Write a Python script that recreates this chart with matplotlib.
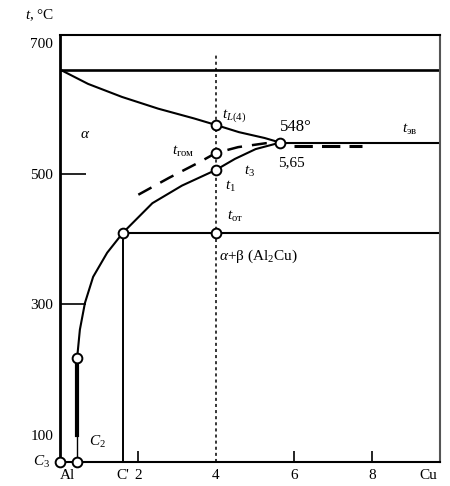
# Al-Cu phase diagram (aluminium corner) with heat treatment temperatures

import numpy as np
import matplotlib.pyplot as plt

plt.rcParams['font.family'] = ['Liberation Serif', 'DejaVu Serif']
plt.rcParams['mathtext.fontset'] = 'custom'
plt.rcParams['mathtext.rm'] = 'Liberation Serif'
plt.rcParams['mathtext.it'] = 'Liberation Serif:italic'

# --- DATA (wt.% Cu, deg C) ---
t_melt_al = 660
t_eut = 548
x_eut = 5.65
t_m = 410
x_alloy = 4
x_c1 = 1.62          # C' : solubility at t_m
x_c2 = 0.44          # C2 : solubility at low temperature
t_low = 58           # bottom of the drawing

liq_x = [0, 0.72, 1.59, 2.52, 3.44, 4.0, 4.59, 5.25, 5.65]
liq_t = [660, 638, 618, 600, 585, 575, 564, 555, 548]

solv_x = [5.65, 5.02, 4.49, 4.0, 3.13, 2.37, 1.62, 1.21, 0.85, 0.64, 0.51, 0.44]
solv_t = [548, 538, 523, 506, 482, 455, 410, 379, 342, 302, 261, 218]

dash_x = [2.01, 2.8, 3.58, 4.0, 4.57, 5.28, 5.65]
dash_t = [468, 494, 518, 532, 541, 547, 548]
dash2_x = [6.0, 7.75]
dash2_t = [543, 543]

# open circles on the diagram
pt_x = [0, x_c2, x_c2, x_c1, x_alloy, x_alloy, x_alloy, x_alloy, x_eut]
pt_t = [t_low, t_low, 218, t_m, t_m, 506, 532, 575, t_eut]

y_ticks = [100, 300, 500, 700]
x_ticks = [0.2, x_c1, 2, 4, 6, 8, 9.45]
x_labels = ['Al', "C'", '2', '4', '6', '8', 'Cu']

xmax, ymax = 9.75, 713

# --- PLOT ---
fig = plt.figure(figsize=(4.5, 4.86), dpi=100)
ax = fig.add_axes([60 / 450, 24 / 486, 380 / 450, 427 / 486])
ax.set_xlim(0, xmax)
ax.set_ylim(t_low, ymax)

k = 'black'
ax.axhline(t_melt_al, color=k, lw=1.9)
ax.plot(liq_x, liq_t, color=k, lw=1.5)
ax.plot(solv_x, solv_t, color=k, lw=1.5)
ax.plot(dash_x, dash_t, color=k, lw=1.8, dashes=(6, 4))
ax.plot(dash2_x, dash2_t, color=k, lw=2.2, dashes=(6, 3))
ax.plot([x_eut, xmax], [t_eut, t_eut], color=k, lw=1.5)
ax.plot([x_c1, xmax], [t_m, t_m], color=k, lw=1.5)
ax.plot([x_c1, x_c1], [t_low, t_m], color=k, lw=1.4)
ax.plot([x_c2, x_c2], [100, 218], color=k, lw=3.0)
ax.plot([x_c2, x_c2], [t_low, 100], color=k, lw=1.0)
ax.plot([x_alloy, x_alloy], [t_low, 685], color=k, lw=1.1, dashes=(2, 2))

ax.plot(pt_x, pt_t, 'o', ms=7, mfc='white', mec=k, mew=1.4, clip_on=False, zorder=5)

# labels on the diagram
fs = 11
ax.text(0.64, 560, r'$\alpha$', fontsize=fs, ha='center', va='center')
ax.text(4.15, 590, r'$t_{L(4)}$', fontsize=fs, ha='left', va='center')
ax.text(3.45, 535, r'$t_{\mathrm{гом}}$', fontsize=fs, ha='right', va='center')
ax.text(4.86, 503, r'$t_3$', fontsize=fs, ha='center', va='center')
ax.text(4.37, 481, r'$t_1$', fontsize=fs, ha='center', va='center')
ax.text(4.49, 435, r'$t_{\mathrm{от}}$', fontsize=fs, ha='center', va='center')
ax.text(4.08, 373, r'$\alpha$+β (Al$_2$Cu)', fontsize=fs, ha='left', va='center')
ax.text(6.05, 572, '548°', fontsize=12, ha='center', va='center')
ax.text(5.95, 517, '5,65', fontsize=fs, ha='center', va='center')
ax.text(8.97, 568, r'$t_{\mathrm{эв}}$', fontsize=fs, ha='center', va='center')
ax.text(0.95, 88, r'$C_2$', fontsize=fs, ha='center', va='center')
ax.text(-0.25, t_low, r'$C_3$', fontsize=fs, ha='right', va='center', clip_on=False)
fig.text(40 / 450, 1 - 15 / 486, r'$t$, °C', fontsize=fs, ha='center', va='center')

# ticks
ax.xaxis.remove_overlapping_locs = False
ax.yaxis.remove_overlapping_locs = False
ax.set_yticks(y_ticks)
ax.set_yticklabels([str(v) for v in y_ticks], fontsize=fs)
ax.set_xticks(x_ticks)
ax.set_xticklabels(x_labels, fontsize=fs)
ax.tick_params(axis='both', which='major', length=0, pad=5)
ax.set_yticks([300, 500], minor=True)
ax.set_xticks([2, 6, 8], minor=True)
ax.tick_params(axis='y', which='minor', direction='in', length=19, width=1.2)
ax.tick_params(axis='x', which='minor', direction='in', length=8, width=1.2)

ax.spines['left'].set_linewidth(2.0)
ax.spines['top'].set_linewidth(1.5)
ax.spines['bottom'].set_linewidth(1.5)
ax.spines['right'].set_linewidth(1.5)
ax.spines['right'].set_color('#555555')

plt.savefig('out.png', dpi=100)
